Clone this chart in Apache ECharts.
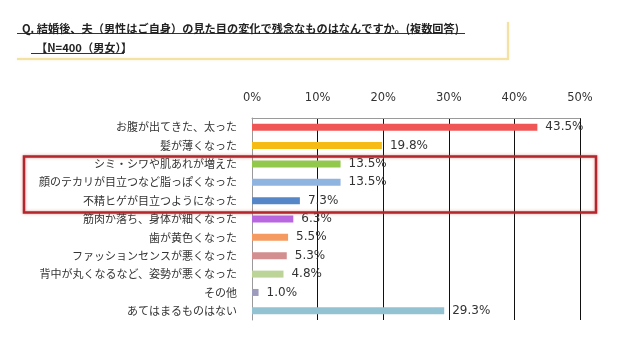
<!DOCTYPE html>
<html><head><meta charset="utf-8">
<script src="https://cdn.jsdelivr.net/npm/echarts@6/dist/echarts.min.js"></script>
<style>html,body{margin:0;padding:0;background:#fff}#c{width:640px;height:355px}</style>
</head><body><div id="c"></div>
<script>
const categories = ["お腹が出てきた、太った","髪が薄くなった","シミ・シワや肌あれが増えた","顔のテカリが目立つなど脂っぽくなった","不精ヒゲが目立つようになった","筋肉か落ち、身体が細くなった","歯が黄色くなった","ファッションセンスが悪くなった","背中が丸くなるなど、姿勢が悪くなった","その他","あてはまるものはない"];
const values = [43.5,19.8,13.5,13.5,7.3,6.3,5.5,5.3,4.8,1.0,29.3];
const barColors = ["#f05656","#f6bb14","#92c84c","#8fb4df","#5587c8","#b867e0","#f59b62","#d38f8f","#bcd498","#9e9cbc","#93c2d3"];
const tickValues = [0,10,20,30,40,50];
const titleLine1 = "Q. 結婚後、夫（男性はご自身）の見た目の変化で残念なものはなんですか。(複数回答)";
const titleLine2 = "【N=400（男女）】";

const chart = echarts.init(document.getElementById('c'));
const jp = '"Noto Sans CJK JP", sans-serif';
chart.setOption({
  animation: false,
  title: [
    {text: titleLine1, left: 17, top: 18, textStyle: {fontSize: 11.2, fontWeight: 'bold', color: '#222', fontFamily: jp}},
    {text: titleLine2, left: 31, top: 37, textStyle: {fontSize: 11.2, fontWeight: 'bold', color: '#222', fontFamily: jp}}
  ],
  grid: {left: 252, right: 60, top: 118, bottom: 35},
  xAxis: {
    type: 'value', position: 'top', min: tickValues[0], max: tickValues[tickValues.length-1], interval: 10,
    axisLine: {show: true, lineStyle: {color: '#9a9a9a', width: 1}},
    axisTick: {show: false},
    axisLabel: {formatter: '{value}%', color: '#333', fontSize: 11.5, fontFamily: 'DejaVu Sans', margin: 14},
    splitLine: {show: true, showMinLine: false, lineStyle: {color: '#111', width: 1}}
  },
  yAxis: {
    type: 'category', inverse: true, data: categories,
    axisLine: {show: true, lineStyle: {color: '#9a9a9a', width: 1}},
    axisTick: {show: false},
    axisLabel: {color: '#333', fontSize: 11, fontFamily: jp, margin: 15}
  },
  series: [{
    type: 'bar', barWidth: 7,
    data: values.map((v, i) => ({value: v, itemStyle: {color: barColors[i]}})),
    label: {show: true, position: 'right', distance: 8, formatter: p => p.value.toFixed(1) + '%', color: '#333', fontSize: 12, fontFamily: 'DejaVu Sans'}
  }],
  graphic: [
    {type: 'line', shape: {x1: 17, y1: 33.5, x2: 465, y2: 33.5}, style: {stroke: '#333', lineWidth: 1}},
    {type: 'line', shape: {x1: 31, y1: 53.5, x2: 124, y2: 53.5}, style: {stroke: '#333', lineWidth: 1}},
    {type: 'polyline', shape: {points: [[17, 59], [508, 59], [508, 22]]}, style: {stroke: '#f4e2a2', lineWidth: 2, fill: null, shadowBlur: 2, shadowColor: 'rgba(240,215,140,0.5)'}},
    {type: 'rect', z: 100, shape: {x: 24, y: 156.5, width: 572, height: 56}, style: {stroke: '#b3262b', lineWidth: 2.5, fill: null, shadowBlur: 3, shadowColor: 'rgba(200,60,60,0.5)'}}
  ]
});
</script></body></html>
